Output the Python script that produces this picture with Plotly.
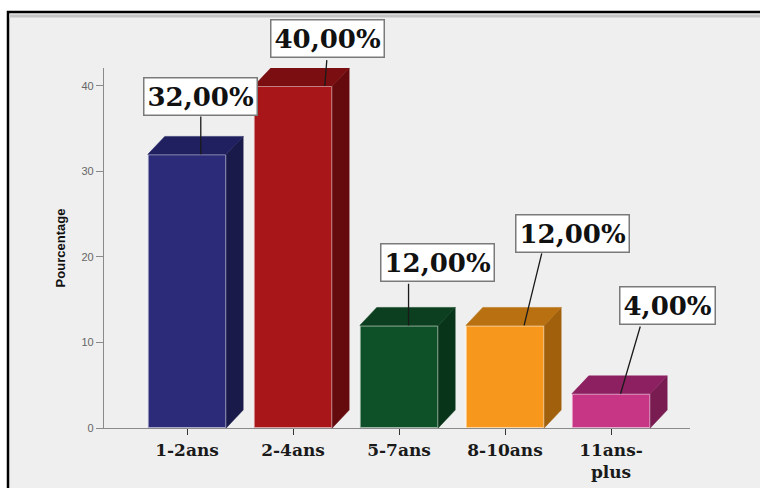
import plotly.graph_objects as go

# ---- data ----
categories = ["1-2ans", "2-4ans", "5-7ans", "8-10ans", "11ans-<br>plus"]
values = [32.0, 40.0, 12.0, 12.0, 4.0]
labels = ["32,00%", "40,00%", "12,00%", "12,00%", "4,00%"]
y_ticks = [0, 10, 20, 30, 40]

# ---- style ----
front_colors = ["#2b2b7a", "#a8161a", "#0e5128", "#f7981d", "#c73585"]
top_colors = ["#202060", "#7a0e10", "#0b3f1f", "#b87010", "#8c2060"]
side_colors = ["#19194a", "#650b0d", "#083519", "#a0600c", "#781c52"]
bar_w = 0.74
depth_x = 0.16
depth_y = 2.1
# label placement offsets (relative to bar centre / value)
head_dx = [0.13, 0.30, 0.09, 0.18, 0.09]
tail_dx = [0.13, 0.32, 0.09, 0.35, 0.28]
tail_dy = [4.6, 3.2, 5.05, 8.6, 8.05]
box_dx_px = [13, 34, 38, 67, 56]
box_dy_px = [58, 47, 63, 92, 88]

xs = list(range(len(categories)))
fig = go.Figure()

# side and top faces
for i, v in zip(xs, values):
    xr = i + bar_w / 2
    xl = i - bar_w / 2
    fig.add_trace(go.Scatter(
        x=[xr, xr + depth_x, xr + depth_x, xr, xr],
        y=[0, depth_y, v + depth_y, v, 0],
        fill="toself", fillcolor=side_colors[i], mode="lines",
        line=dict(color=side_colors[i], width=0.5), hoverinfo="skip", showlegend=False))
    fig.add_trace(go.Scatter(
        x=[xl, xr, xr + depth_x, xl + depth_x, xl],
        y=[v, v, v + depth_y, v + depth_y, v],
        fill="toself", fillcolor=top_colors[i], mode="lines",
        line=dict(color=top_colors[i], width=0.5), hoverinfo="skip", showlegend=False))

# front faces
fig.add_trace(go.Bar(
    x=xs, y=values, width=bar_w,
    marker=dict(color=front_colors, line=dict(color="rgba(255,255,255,0.6)", width=2)),
    showlegend=False, hoverinfo="skip"))

annotations = []
for i, v in zip(xs, values):
    annotations.append(dict(
        x=i + head_dx[i], y=v, ax=i + tail_dx[i], ay=v + tail_dy[i],
        xref="x", yref="y", axref="x", ayref="y", text="",
        showarrow=True, arrowhead=0, arrowwidth=1.3, arrowcolor="#1a1a1a"))
for i, v in zip(xs, values):
    annotations.append(dict(
        x=i, y=v, xref="x", yref="y", xshift=box_dx_px[i], yshift=box_dy_px[i],
        text=labels[i], showarrow=False, xanchor="center", yanchor="middle",
        font=dict(family="DejaVu Serif", size=26, color="#111111", weight="bold"),
        bgcolor="#ffffff", bordercolor="#7a7a7a", borderwidth=1.5, borderpad=3))

def px_x(px):
    return (px - 104) / 586.0

def px_y(py):
    return (428 - py) / 360.0

shapes = [
    dict(type="rect", xref="paper", yref="paper",
         x0=px_x(8), x1=px_x(820), y0=px_y(540), y1=px_y(12),
         fillcolor="#efefef", line=dict(color="#000000", width=2.5), layer="below"),
    dict(type="line", xref="paper", yref="paper",
         x0=px_x(9), x1=px_x(820), y0=px_y(16), y1=px_y(16),
         line=dict(color="#c4c4c4", width=3), layer="below"),
]

fig.update_layout(
    width=760, height=488,
    margin=dict(l=104, r=70, t=68, b=60),
    paper_bgcolor="#ffffff", plot_bgcolor="rgba(0,0,0,0)",
    bargap=0.3,
    shapes=shapes, annotations=annotations,
    xaxis=dict(
        range=[-0.783, 4.745], tickmode="array", tickvals=xs, ticktext=categories,
        automargin=False,
        showline=True, linecolor="#8a8a8a", linewidth=1.2, showgrid=False, zeroline=False,
        ticks="outside", ticklen=6, tickcolor="#333333", tickwidth=1,
        tickfont=dict(family="DejaVu Serif", size=17, color="#1a1a1a", weight="bold")),
    yaxis=dict(
        range=[0, 42.1], tickmode="array", tickvals=y_ticks, automargin=False,
        showline=True, linecolor="#8a8a8a", linewidth=1.2, showgrid=False, zeroline=False,
        ticks="outside", ticklen=7, tickcolor="#8a8a8a", tickwidth=1,
        tickfont=dict(family="Liberation Sans", size=11, color="#666666"),
        title=dict(text="Pourcentage", standoff=12,
                   font=dict(family="Liberation Sans", size=13, color="#111111", weight="bold"))),
)

fig.write_html("out.html")
